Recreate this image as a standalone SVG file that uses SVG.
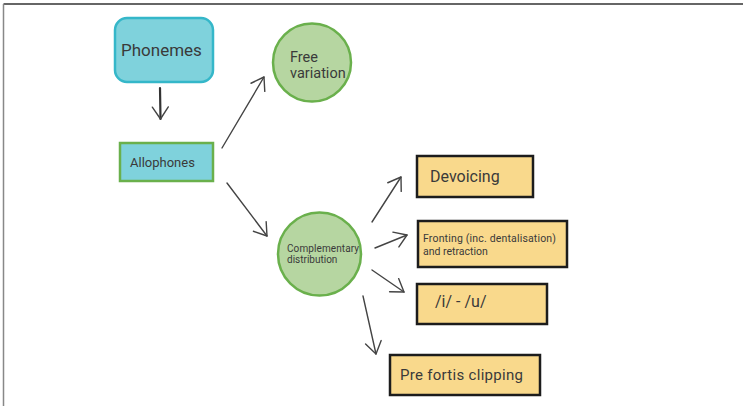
<svg xmlns="http://www.w3.org/2000/svg" width="743" height="406" viewBox="0 0 743 406">
<defs>
<marker id="chev" viewBox="0 0 20 20" refX="16" refY="10" markerWidth="20" markerHeight="20" markerUnits="userSpaceOnUse" orient="auto">
<path d="M4,2 L16,10 L4,18" fill="none" stroke="#444" stroke-width="1.4" stroke-linecap="round" stroke-linejoin="round"/>
</marker>
<style>
.t{font-family:Roboto,"Liberation Sans",sans-serif;fill:#3a3a3a}
.cyan{fill:#7fd2dc;stroke:#35b7c9;stroke-width:2.5}
.cyan2{fill:#7fd2dc;stroke:#6ab04c;stroke-width:2.5}
.grn{fill:#b6d6a1;stroke:#6ab04c;stroke-width:2.5}
.yel{fill:#f9d98c;stroke:#1c1c1c;stroke-width:2.5}
.c{fill:none;stroke:#444;stroke-width:1.4;stroke-linecap:round;marker-end:url(#chev)}
</style>
</defs>
<rect width="743" height="406" fill="#fff"/>
<line x1="3.5" y1="4" x2="743" y2="4" stroke="#333" stroke-width="1.5"/>
<line x1="3.5" y1="4" x2="3.5" y2="406" stroke="#888" stroke-width="1.5"/>
<g id="connectors">
<path class="c" d="M160,88 L160.5,119" style="stroke-width:2.2;stroke:#333"/>
<path class="c" d="M222,148 L264,77"/>
<path class="c" d="M227,183 L267,236"/>
<path class="c" d="M372,222 L401,177"/>
<path class="c" d="M375,248 L407,235"/>
<path class="c" d="M372,270 L404,292"/>
<path class="c" d="M363,296 L376,354"/>
</g>
<g id="phonemes">
<rect class="cyan" x="115" y="18" width="98" height="64" rx="12"/>
<text class="t" x="121" y="56" font-size="17">Phonemes</text>
</g>
<g id="allophones">
<rect class="cyan2" x="120" y="143" width="93" height="38"/>
<text class="t" x="130" y="167" font-size="13">Allophones</text>
</g>
<g id="free-variation">
<circle class="grn" cx="312" cy="62.5" r="39"/>
<text class="t" x="290" y="62" font-size="14.5">Free</text>
<text class="t" x="290" y="78" font-size="14.5">variation</text>
</g>
<g id="complementary">
<circle class="grn" cx="319.5" cy="254" r="41.5"/>
<text class="t" x="287" y="252" font-size="10" textLength="72">Complementary</text>
<text class="t" x="287" y="263" font-size="10">distribution</text>
</g>
<g id="devoicing">
<rect class="yel" x="417" y="156" width="116" height="41"/>
<text class="t" x="430" y="182" font-size="16">Devoicing</text>
</g>
<g id="fronting">
<rect class="yel" x="418" y="221" width="149" height="46"/>
<text class="t" x="423" y="242" font-size="10.5" textLength="133">Fronting (inc. dentalisation)</text>
<text class="t" x="423" y="255" font-size="10.5">and retraction</text>
</g>
<g id="iu">
<rect class="yel" x="417" y="284" width="130" height="40"/>
<text class="t" x="435" y="307" font-size="16">/i/ - /u/</text>
</g>
<g id="pre-fortis">
<rect class="yel" x="390" y="355" width="150" height="40"/>
<text class="t" x="400" y="380" font-size="15" textLength="123">Pre fortis clipping</text>
</g>
</svg>
